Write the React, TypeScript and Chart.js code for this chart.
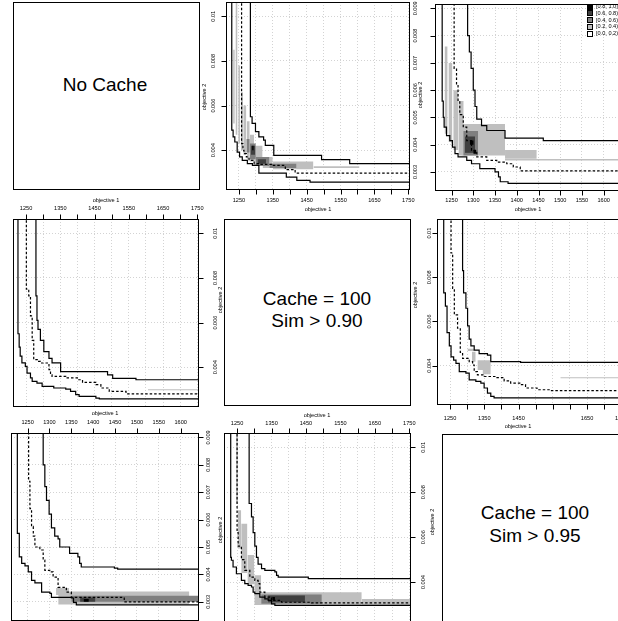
import React, { useEffect, useRef } from "react";
import { Chart, registerables } from "chart.js";

Chart.register(...registerables);

// ---------------- axis ticks / labels ----------------
const xTicksWide = [1250, 1300, 1350, 1400, 1450, 1500, 1550, 1600, 1650, 1700, 1750];
const xLabelsWide = [1250, 1350, 1450, 1550, 1650, 1750];
const xLabelsWideP23 = [1250, 1350, 1450, 1650, 1750];
const xTicksNarrow = [1250, 1300, 1350, 1400, 1450, 1500, 1550, 1600];
const yTicksWide = [0.004, 0.006, 0.008, 0.01];
const yLabelsWide = ["0.004", "0.006", "0.008", "0.01"];
const yTicksNarrow = [0.003, 0.004, 0.005, 0.006, 0.007, 0.008, 0.009];
const yLabelsNarrow = ["0.003", "0.004", "0.005", "0.006", "0.007", "0.008", "0.009"];

const xRangeA = [1212, 1755];
const yRangeA = [0.00222, 0.01064];
const xRangeB = [1212, 1642];
const yRangeB = [0.0023, 0.00916];

const legendLabels = ["[0.8, 1.0]", "[0.6, 0.8)", "[0.4, 0.6)", "[0.2, 0.4)", "[0.0, 0.2)"];

// ---------------- attainment curves ----------------
// Panel row1 col2
const p12BestX = [1229, 1229, 1233, 1238, 1245, 1252, 1260, 1275, 1290, 1309, 1309, 1390, 1421, 1460, 1800];
const p12BestY = [0.012, 0.0049, 0.0046, 0.00437, 0.00392, 0.0037, 0.00355, 0.0034, 0.00332, 0.0031, 0.00298, 0.0028, 0.00265, 0.00257, 0.00257];
const p12MedX = [1258, 1258, 1262, 1265, 1272, 1280, 1295, 1310, 1347, 1387, 1416, 1800];
const p12MedY = [0.012, 0.0043, 0.004, 0.00385, 0.0037, 0.00355, 0.0034, 0.00337, 0.00332, 0.00313, 0.00298, 0.00298];
const p12WorstX = [1284, 1284, 1289, 1299, 1309, 1323, 1328, 1353, 1494, 1577, 1800];
const p12WorstY = [0.012, 0.0055, 0.0052, 0.00483, 0.0046, 0.00445, 0.00422, 0.00377, 0.00358, 0.0034, 0.0034];

// Panel row1 col3
const p13BestX = [1228.5, 1228.5, 1231, 1233, 1238.5, 1246, 1252, 1258, 1265, 1285, 1296, 1315, 1350, 1358, 1362, 1380, 1700];
const p13BestY = [0.011, 0.0056, 0.005, 0.00464, 0.00433, 0.00415, 0.00391, 0.00367, 0.00355, 0.00342, 0.0033, 0.00312, 0.003, 0.00282, 0.00264, 0.00258, 0.00258];
const p13MedX = [1256, 1256, 1261.5, 1265, 1269, 1277, 1285, 1296, 1308, 1331, 1354, 1377, 1392, 1408, 1700];
const p13MedY = [0.011, 0.0068, 0.0062, 0.0056, 0.0051, 0.00464, 0.00415, 0.00379, 0.00355, 0.00342, 0.00336, 0.0033, 0.00318, 0.00304, 0.00304];
const p13WorstX = [1287, 1287, 1291, 1295, 1300, 1304, 1308, 1319, 1331, 1373, 1461, 1700];
const p13WorstY = [0.011, 0.008, 0.0074, 0.0068, 0.006, 0.0054, 0.00494, 0.0047, 0.00452, 0.00424, 0.00415, 0.00415];

// Panel row2 col1
const p21BestX = [1226.5, 1226.5, 1230, 1233, 1238, 1248, 1253, 1263, 1268, 1282, 1297, 1331, 1366, 1380, 1395, 1405, 1454, 1464, 1800];
const p21BestY = [0.012, 0.0055, 0.0049, 0.0045, 0.0042, 0.00404, 0.00374, 0.00352, 0.00337, 0.00329, 0.00314, 0.00307, 0.00302, 0.00292, 0.00277, 0.0027, 0.00262, 0.00258, 0.00258];
const p21MedX = [1251, 1251, 1258, 1263, 1268, 1272.5, 1285, 1292, 1317, 1321.5, 1326, 1366, 1400, 1415, 1454, 1468.5, 1493, 1542, 1547, 1800];
const p21MedY = [0.012, 0.0075, 0.0072, 0.0063, 0.0052, 0.00434, 0.00426, 0.00419, 0.00389, 0.00366, 0.00359, 0.00352, 0.00344, 0.00332, 0.00322, 0.00307, 0.00292, 0.00287, 0.00281, 0.00281];
const p21WorstX = [1279, 1279, 1282, 1285, 1292, 1302, 1317, 1326, 1351, 1351, 1488, 1503, 1571, 1800];
const p21WorstY = [0.012, 0.0072, 0.0061, 0.0057, 0.0052, 0.0047, 0.0044, 0.0042, 0.0041, 0.0038, 0.00366, 0.0035, 0.00344, 0.00344];

// Panel row2 col3
const p23BestX = [1231.6, 1231.6, 1236.5, 1241.3, 1248, 1253, 1260.6, 1267.4, 1277, 1296.4, 1306, 1325.4, 1340, 1349.6, 1359.3, 1369, 1378.6, 1800];
const p23BestY = [0.012, 0.0073, 0.0067, 0.0055, 0.0049, 0.0044, 0.00425, 0.0041, 0.00373, 0.00366, 0.00336, 0.00329, 0.00321, 0.00299, 0.00276, 0.00261, 0.00254, 0.00254];
const p23MedX = [1253, 1253, 1257.7, 1262.6, 1272, 1280, 1286.7, 1306, 1316, 1320.6, 1330, 1350, 1383, 1408, 1427, 1456, 1470.5, 1504, 1543, 1800];
const p23MedY = [0.012, 0.0091, 0.0075, 0.0063, 0.0057, 0.0046, 0.00433, 0.00418, 0.00403, 0.00373, 0.00358, 0.00351, 0.00346, 0.00331, 0.00321, 0.00314, 0.00299, 0.00291, 0.00287, 0.00287];
const p23WorstX = [1286.7, 1286.7, 1289.6, 1296.4, 1301.3, 1306, 1311, 1320.6, 1335, 1359.3, 1369, 1456, 1800];
const p23WorstY = [0.012, 0.0083, 0.0073, 0.0066, 0.0058, 0.0052, 0.0049, 0.0047, 0.00455, 0.00448, 0.00418, 0.00415, 0.00415];

// Panel row3 col1
const p31BestX = [1226.5, 1226.5, 1231, 1236.4, 1244, 1251.5, 1259, 1266.7, 1282, 1301, 1304.5, 1350, 1355, 1361.4, 1700];
const p31BestY = [0.011, 0.0055, 0.00464, 0.0044, 0.00431, 0.00409, 0.00378, 0.00369, 0.00335, 0.00331, 0.00316, 0.00314, 0.00298, 0.00289, 0.00289];
const p31MedX = [1252.3, 1252.3, 1255.3, 1259, 1263, 1266.7, 1278, 1285.6, 1289.4, 1300.8, 1308.3, 1319.7, 1338.6, 1350, 1471, 1700];
const p31MedY = [0.011, 0.0074, 0.0064, 0.00575, 0.0054, 0.005, 0.00489, 0.00452, 0.00415, 0.00409, 0.0039, 0.00353, 0.00335, 0.00316, 0.003, 0.003];
const p31WorstX = [1285.6, 1285.6, 1289.4, 1293.2, 1299.2, 1304.5, 1312, 1319.7, 1323.5, 1346, 1365, 1369, 1372.7, 1448.5, 1456, 1700];
const p31WorstY = [0.011, 0.008, 0.0072, 0.0067, 0.0062, 0.0057, 0.0054, 0.0053, 0.005, 0.00477, 0.00464, 0.0044, 0.00427, 0.00423, 0.00419, 0.00419];

// Panel row3 col2
const p32BestX = [1231.5, 1231.5, 1233.5, 1238.3, 1248, 1262.6, 1272.3, 1282, 1291.8, 1296.6, 1301.5, 1316, 1330.6, 1340.3, 1350, 1359.7, 1800];
const p32BestY = [0.012, 0.0051, 0.00497, 0.00467, 0.00437, 0.00407, 0.00393, 0.00385, 0.00378, 0.00355, 0.00348, 0.00333, 0.00325, 0.00318, 0.00303, 0.00296, 0.00296];
const p32MedX = [1250, 1250, 1253, 1262.6, 1272.3, 1287, 1301.5, 1311, 1316, 1330.6, 1350, 1379, 1466.5, 1800];
const p32MedY = [0.012, 0.0062, 0.0056, 0.005, 0.00452, 0.00422, 0.00407, 0.00393, 0.00355, 0.00333, 0.00318, 0.0031, 0.00307, 0.00307];
const p32WorstX = [1285, 1285, 1291.8, 1296.6, 1301.5, 1306.3, 1311, 1321, 1330.6, 1359.7, 1364.6, 1369.4, 1456.8, 1800];
const p32WorstY = [0.012, 0.0075, 0.0069, 0.0062, 0.0056, 0.0051, 0.0048, 0.0046, 0.00452, 0.00445, 0.0043, 0.00422, 0.00415, 0.00415];

// ---------------- attainment regions: [x1, x2, y1, y2, level] ----------------
const p12Cells = [
  [1233, 1238, 0.0052, 0.0085, 1],
  [1240, 1246, 0.0047, 0.0107, 1],
  [1248, 1254, 0.0043, 0.0078, 1],
  [1256, 1262, 0.004, 0.0066, 1],
  [1263, 1272, 0.0038, 0.006, 1],
  [1273, 1282, 0.0036, 0.0053, 1],
  [1282, 1295, 0.0035, 0.0047, 1],
  [1295, 1320, 0.0033, 0.0042, 1],
  [1320, 1350, 0.0032, 0.0037, 1],
  [1350, 1470, 0.00315, 0.0035, 1],
  [1470, 1606, 0.0032, 0.00328, 1],
  [1272, 1282, 0.0039, 0.0045, 2],
  [1282, 1300, 0.0036, 0.0043, 2],
  [1300, 1340, 0.0033, 0.0037, 2],
  [1340, 1420, 0.0032, 0.0034, 2],
  [1285, 1298, 0.0038, 0.0042, 3],
  [1305, 1330, 0.0034, 0.0036, 3],
  [1289, 1294, 0.004, 0.0042, 4],
];
const p13Cells = [
  [1234, 1241, 0.0044, 0.0076, 1],
  [1243, 1252, 0.0041, 0.007, 1],
  [1254, 1266, 0.0038, 0.006, 1],
  [1266, 1278, 0.0036, 0.0056, 1],
  [1273, 1373, 0.0036, 0.00476, 1],
  [1373, 1446, 0.00348, 0.0038, 1],
  [1373, 1645, 0.00342, 0.00347, 1],
  [1277, 1311, 0.0036, 0.0045, 2],
  [1281, 1304, 0.0037, 0.0043, 3],
  [1292, 1301, 0.004, 0.00415, 4],
  [1300, 1307, 0.00367, 0.0038, 4],
];
const p21Cells = [[1606, 1756, 0.00297, 0.00301, 1]];
const p23Cells = [
  [1301, 1320, 0.00466, 0.00477, 1],
  [1314, 1325, 0.00418, 0.00463, 1],
  [1330, 1369, 0.0038, 0.00425, 1],
  [1345, 1369, 0.00361, 0.0038, 1],
  [1572, 1760, 0.00343, 0.00348, 1],
];
const p31Cells = [
  [1320, 1620, 0.0029, 0.00338, 1],
  [1315, 1345, 0.00325, 0.0035, 1],
  [1350, 1642, 0.003, 0.00322, 2],
  [1370, 1405, 0.003, 0.00316, 3],
  [1378, 1390, 0.003, 0.0031, 4],
];
const p32Cells = [
  [1247, 1253, 0.0075, 0.0107, 1],
  [1252, 1262, 0.0055, 0.0072, 1],
  [1262, 1280, 0.0044, 0.0066, 1],
  [1280, 1300, 0.0039, 0.0052, 1],
  [1300, 1320, 0.0035, 0.0043, 1],
  [1300, 1612, 0.00298, 0.00355, 1],
  [1612, 1758, 0.00298, 0.00325, 1],
  [1320, 1496, 0.00303, 0.00345, 2],
  [1340, 1447, 0.0031, 0.0034, 3],
  [1352, 1360, 0.0032, 0.00333, 4],
];

// ---------------- styles / layout ----------------
const CW = 640;
const CH = 640;
const FONT = '"Liberation Sans", Arial, Helvetica, sans-serif';
const FS = 5.6;
const TICK = 5;
const levelColors = ["#ffffff", "#bfbfbf", "#7f7f7f", "#3f3f3f", "#000000"];
const legendColors = ["#000000", "#3f3f3f", "#7f7f7f", "#bfbfbf", "#ffffff"];

const panels = [
  {
    id: "p12", box: [226, 2, 410, 190], xr: xRangeA, yr: yRangeA, yStep: 0.002,
    best: [p12BestX, p12BestY], med: [p12MedX, p12MedY], worst: [p12WorstX, p12WorstY], cells: p12Cells,
    xAxis: { side: "bottom", ticks: xTicksWide, labels: xLabelsWide, labelPos: 200, titlePos: 209, titleCenter: 318 },
    yAxis: { side: "left", ticks: yTicksWide, labels: yLabelsWide, labelPos: 213, titlePos: 204, titleCenter: 97 },
    legend: false,
  },
  {
    id: "p13", box: [435, 4, 622, 191], xr: xRangeB, yr: yRangeB, yStep: 0.001,
    best: [p13BestX, p13BestY], med: [p13MedX, p13MedY], worst: [p13WorstX, p13WorstY], cells: p13Cells,
    xAxis: { side: "bottom", ticks: xTicksNarrow, labels: xTicksNarrow, labelPos: 200, titlePos: 209, titleCenter: 528 },
    yAxis: { side: "left", ticks: yTicksNarrow, labels: yLabelsNarrow, labelPos: 415, titlePos: 420, titleCenter: 95 },
    legend: true,
  },
  {
    id: "p21", box: [13, 219, 199, 407], xr: xRangeA, yr: yRangeA, yStep: 0.002,
    best: [p21BestX, p21BestY], med: [p21MedX, p21MedY], worst: [p21WorstX, p21WorstY], cells: p21Cells,
    xAxis: { side: "top", ticks: xTicksWide, labels: xLabelsWide, labelPos: 208, titlePos: 200, titleCenter: 106 },
    yAxis: { side: "right", ticks: yTicksWide, labels: yLabelsWide, labelPos: 215, titlePos: 220, titleCenter: 300 },
    legend: false,
  },
  {
    id: "p23", box: [437, 219, 623, 405], xr: xRangeA, yr: yRangeA, yStep: 0.002,
    best: [p23BestX, p23BestY], med: [p23MedX, p23MedY], worst: [p23WorstX, p23WorstY], cells: p23Cells,
    xAxis: { side: "bottom", ticks: xTicksWide, labels: xLabelsWideP23, labelPos: 418, titlePos: 426, titleCenter: 518 },
    yAxis: { side: "left", ticks: yTicksWide, labels: yLabelsWide, labelPos: 429, titlePos: 415, titleCenter: 295 },
    legend: false,
  },
  {
    id: "p31", box: [11, 433, 199, 621], xr: xRangeB, yr: yRangeB, yStep: 0.001,
    best: [p31BestX, p31BestY], med: [p31MedX, p31MedY], worst: [p31WorstX, p31WorstY], cells: p31Cells,
    xAxis: { side: "top", ticks: xTicksNarrow, labels: xTicksNarrow, labelPos: 422, titlePos: 413, titleCenter: 105 },
    yAxis: { side: "right", ticks: yTicksNarrow, labels: yLabelsNarrow, labelPos: 208, titlePos: 220, titleCenter: 530 },
    legend: false,
  },
  {
    id: "p32", box: [224, 433, 411, 622], xr: xRangeA, yr: yRangeA, yStep: 0.002,
    best: [p32BestX, p32BestY], med: [p32MedX, p32MedY], worst: [p32WorstX, p32WorstY], cells: p32Cells,
    xAxis: { side: "top", ticks: xTicksWide, labels: xLabelsWide, labelPos: 423, titlePos: 415, titleCenter: 317 },
    yAxis: { side: "right", ticks: yTicksWide, labels: yLabelsWide, labelPos: 423, titlePos: 432, titleCenter: 522 },
    legend: false,
  },
];

const textPanels = [
  { box: [13, 2, 200, 190], lines: [{ t: "No Cache", x: 105, y: 84 }] },
  { box: [224, 219, 411, 406], lines: [{ t: "Cache = 100", x: 317, y: 298 }, { t: "Sim > 0.90", x: 317, y: 320 }] },
  { box: [442, 434, 629, 625], lines: [{ t: "Cache = 100", x: 535, y: 512 }, { t: "Sim > 0.95", x: 535, y: 535 }] },
];

function pts(xs: number[], ys: number[]) {
  return xs.map((x, i) => ({ x, y: ys[i] }));
}

function decorPlugin(p: any) {
  return {
    id: "decor_" + p.id,
    afterDraw(chart: any) {
      const ctx = chart.ctx;
      const a = chart.chartArea;
      const sx = chart.scales.x;
      const sy = chart.scales.y;
      ctx.save();
      ctx.setLineDash([]);
      ctx.strokeStyle = "#000";
      ctx.lineWidth = 1;
      const L = Math.round(a.left), T = Math.round(a.top), R = Math.round(a.right), B = Math.round(a.bottom);
      ctx.strokeRect(L + 0.5, T + 0.5, R - L - 1, B - T - 1);

      const xa = p.xAxis;
      const ya = p.yAxis;
      ctx.beginPath();
      const ey = xa.side === "bottom" ? B - 0.5 : T + 0.5;
      const dy = xa.side === "bottom" ? TICK : -TICK;
      for (const v of xa.ticks) {
        const px = Math.round(sx.getPixelForValue(v)) + 0.5;
        ctx.moveTo(px, ey);
        ctx.lineTo(px, ey + dy);
      }
      const ex = ya.side === "left" ? L + 0.5 : R - 0.5;
      const dx = ya.side === "left" ? -TICK : TICK;
      for (const v of ya.ticks) {
        const py = Math.round(sy.getPixelForValue(v)) + 0.5;
        ctx.moveTo(ex, py);
        ctx.lineTo(ex + dx, py);
      }
      ctx.stroke();

      ctx.fillStyle = "#000";
      ctx.font = `${FS}px ${FONT}`;
      ctx.textAlign = "center";
      ctx.textBaseline = "middle";
      for (const v of xa.labels) {
        ctx.fillText(String(v), sx.getPixelForValue(v), xa.labelPos);
      }
      ctx.fillText("objective 1", xa.titleCenter, xa.titlePos);
      ya.ticks.forEach((v: number, i: number) => {
        const py = sy.getPixelForValue(v);
        ctx.save();
        ctx.translate(ya.labelPos, py);
        ctx.rotate(-Math.PI / 2);
        ctx.fillText(ya.labels[i], 0, 0);
        ctx.restore();
      });
      ctx.save();
      ctx.translate(ya.titlePos, ya.titleCenter);
      ctx.rotate(-Math.PI / 2);
      ctx.fillText("objective 2", 0, 0);
      ctx.restore();

      if (p.legend) {
        ctx.textAlign = "left";
        legendLabels.forEach((t, i) => {
          const y = 6.5 + i * 6.8;
          ctx.fillStyle = legendColors[i];
          ctx.fillRect(588, Math.round(y) - 2, 4, 4);
          ctx.strokeStyle = "#000";
          ctx.strokeRect(587.5, Math.round(y) - 2.5, 5, 5);
          ctx.fillStyle = "#000";
          ctx.fillText(t, 596, y);
        });
      }
      ctx.restore();
    },
  };
}

function buildConfig(p: any) {
  const datasets: any[] = [];
  const curve = (xy: number[][], dash: number[]) => ({
    data: pts(xy[0], xy[1]),
    borderColor: "#000",
    borderWidth: 1.2,
    borderDash: dash,
    stepped: "before",
    pointRadius: 0,
    fill: false,
    order: 0,
  });
  datasets.push(curve(p.worst, []));
  datasets.push(curve(p.med, [2.5, 2]));
  datasets.push(curve(p.best, []));
  for (const c of p.cells) {
    const [x1, x2, y1, y2, lev] = c;
    datasets.push({
      data: [{ x: x1, y: y2 }, { x: x2, y: y2 }],
      fill: { value: y1 },
      backgroundColor: levelColors[lev],
      borderColor: "rgba(0,0,0,0)",
      borderWidth: 0,
      pointRadius: 0,
      order: 5 - lev,
    });
  }
  const gridOpts = { color: "#d3d3d3", lineWidth: 1, drawTicks: false };
  return {
    type: "line",
    data: { datasets },
    options: {
      animation: false,
      responsive: false,
      events: [],
      layout: {
        padding: { left: p.box[0], top: p.box[1], right: CW - p.box[2], bottom: CH - p.box[3] },
      },
      plugins: { legend: { display: false }, tooltip: { enabled: false } },
      scales: {
        x: {
          type: "linear",
          min: p.xr[0],
          max: p.xr[1],
          ticks: { display: false, stepSize: 50, includeBounds: false },
          grid: gridOpts,
          border: { display: false, dash: [1, 2] },
        },
        y: {
          type: "linear",
          min: p.yr[0],
          max: p.yr[1],
          ticks: { display: false, stepSize: p.yStep, includeBounds: false },
          grid: gridOpts,
          border: { display: false, dash: [1, 2] },
        },
      },
    },
    plugins: [decorPlugin(p)],
  };
}

function PanelChart({ p }: { p: any }) {
  const ref = useRef<HTMLCanvasElement>(null);
  useEffect(() => {
    const chart = new Chart(ref.current as HTMLCanvasElement, buildConfig(p) as any);
    return () => chart.destroy();
  }, []);
  return (
    <canvas
      ref={ref}
      width={CW}
      height={CH}
      style={{ position: "absolute", left: 0, top: 0, width: CW, height: CH }}
    />
  );
}

function TextPanel({ tp }: { tp: any }) {
  const [x1, y1, x2, y2] = tp.box;
  return (
    <>
      <div
        style={{
          position: "absolute",
          left: x1,
          top: y1,
          width: x2 - x1,
          height: y2 - y1,
          border: "1px solid #000",
          boxSizing: "border-box",
        }}
      />
      {tp.lines.map((l: any, i: number) => (
        <div
          key={i}
          style={{
            position: "absolute",
            left: l.x,
            top: l.y,
            transform: "translate(-50%, -50%)",
            whiteSpace: "nowrap",
            fontFamily: FONT,
            fontSize: 19,
            lineHeight: 1,
            color: "#000",
          }}
        >
          {l.t}
        </div>
      ))}
    </>
  );
}

export default function App() {
  return (
    <div
      style={{
        position: "fixed",
        left: 0,
        top: 0,
        width: 618,
        height: 621,
        overflow: "hidden",
        background: "#fff",
      }}
    >
      {textPanels.map((tp, i) => (
        <TextPanel key={i} tp={tp} />
      ))}
      {panels.map((p) => (
        <PanelChart key={p.id} p={p} />
      ))}
    </div>
  );
}
